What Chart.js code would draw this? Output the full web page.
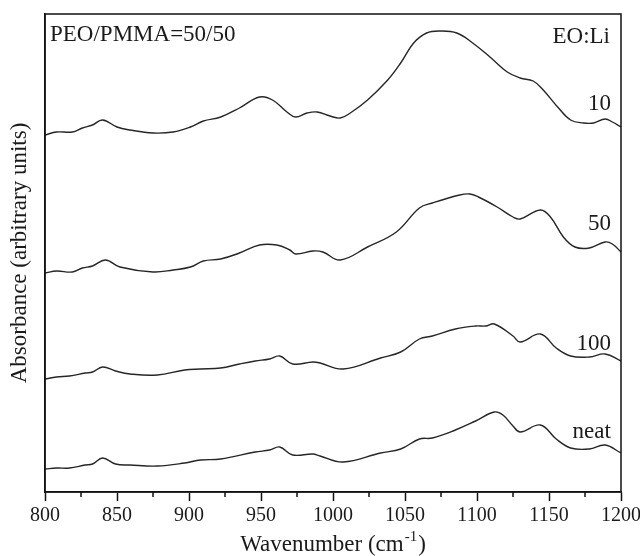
<!DOCTYPE html>
<html>
<head>
<meta charset="utf-8">
<script src="https://cdn.jsdelivr.net/npm/chart.js@4/dist/chart.umd.min.js"></script>
<style>
  html, body { margin: 0; padding: 0; background: #fff; }
</style>
</head>
<body>
<canvas id="ftir" width="640" height="556"></canvas>
<script>
/* FTIR spectra, PEO/PMMA = 50/50 blend with different EO:Li ratios.
   Curves are stacked with a vertical offset (arbitrary units). */

const X_MIN = 800;
const X_MAX = 1200;
const Y_MIN = 0;
const Y_MAX = 478;

// EO:Li = 10
const wn10  = [800, 808, 819, 826, 833, 840, 850, 859, 875, 889, 901, 910, 922, 935, 949, 958, 968, 974, 982, 989, 998, 1005, 1012, 1024, 1038, 1047, 1056, 1065, 1074, 1086, 1097, 1109, 1121, 1130, 1139, 1146, 1156, 1165, 1174, 1181, 1189, 1194, 1200];
const abs10 = [357, 360, 360, 364, 367, 372, 365, 362, 359, 360, 365, 371, 375, 384, 395, 392, 380, 375, 379, 380, 376, 374, 379, 392, 412, 429, 449, 459, 461, 459, 449, 435, 420, 414, 411, 402, 385, 372, 369, 369, 373, 370, 365];

// EO:Li = 50
const wn50  = [800, 808, 819, 826, 833, 842, 852, 875, 889, 901, 910, 922, 935, 949, 961, 970, 974, 986, 993, 1005, 1024, 1044, 1060, 1069, 1088, 1095, 1101, 1114, 1125, 1130, 1144, 1151, 1160, 1168, 1178, 1189, 1194, 1200];
const abs50 = [219, 221, 220, 224, 226, 232, 225, 220, 222, 225, 231, 233, 239, 247, 247, 242, 238, 241, 240, 232, 245, 260, 284, 289, 297, 298, 295, 285, 275, 273, 282, 275, 255, 245, 244, 250, 248, 240];

// EO:Li = 100
const wn100  = [800, 808, 817, 828, 833, 840, 849, 859, 878, 897, 908, 922, 935, 946, 956, 963, 972, 986, 991, 1007, 1033, 1047, 1060, 1069, 1085, 1099, 1106, 1112, 1125, 1130, 1144, 1155, 1165, 1178, 1189, 1200];
const abs100 = [113, 115, 116, 119, 120, 125, 121, 118, 117, 122, 123, 124, 128, 131, 133, 136, 128, 130, 129, 123, 134, 140, 153, 156, 163, 166, 166, 168, 156, 150, 158, 144, 136, 135, 138, 131];

// neat blend (no salt)
const wnNeat  = [800, 808, 817, 828, 833, 840, 849, 859, 878, 897, 908, 922, 946, 956, 963, 972, 986, 991, 1007, 1033, 1047, 1060, 1069, 1085, 1099, 1112, 1118, 1125, 1130, 1144, 1155, 1165, 1178, 1189, 1200];
const absNeat = [23, 24, 24, 27, 28, 34, 28, 27, 26, 29, 32, 33, 40, 42, 45, 37, 38, 36, 30, 39, 43, 53, 54, 62, 71, 80, 77, 66, 60, 67, 53, 44, 43, 47, 39];

const curveNames = ['10', '50', '100', 'neat'];
const curveX = [wn10, wn50, wn100, wnNeat];
const curveY = [abs10, abs50, abs100, absNeat];

const SERIF = '"Liberation Serif", "Times New Roman", serif';
const INK = '#1a1a1a';

// box frame, minor x ticks, axis titles and curve tags
const decorations = {
  id: 'decorations',
  afterDraw(chart) {
    const { ctx, chartArea: a, scales: { x, y } } = chart;
    ctx.save();

    ctx.strokeStyle = '#111';
    ctx.lineWidth = 1.5;
    ctx.strokeRect(a.left, a.top, a.right - a.left, a.bottom - a.top);

    ctx.beginPath();
    for (let v = X_MIN + 25; v < X_MAX; v += 50) {
      const px = Math.round(x.getPixelForValue(v));
      ctx.moveTo(px, a.bottom);
      ctx.lineTo(px, a.bottom + 5);
    }
    ctx.stroke();

    ctx.fillStyle = INK;
    ctx.font = '23px ' + SERIF;
    ctx.textBaseline = 'alphabetic';

    ctx.textAlign = 'left';
    ctx.fillText('PEO/PMMA=50/50', a.left + 5, a.top + 27);
    ctx.textAlign = 'right';
    ctx.fillText('EO:Li', a.right - 11, a.top + 29);

    const tagX = x.getPixelForValue(1193);
    const tagLevels = [382, 262, 142, 54];
    curveNames.forEach((name, i) => {
      ctx.fillText(name, tagX, y.getPixelForValue(tagLevels[i]));
    });

    // x title with superscript
    const main = 'Wavenumber (cm';
    const sup = '-1';
    const tail = ')';
    ctx.font = '23px ' + SERIF;
    const wMain = ctx.measureText(main).width;
    const wTail = ctx.measureText(tail).width;
    ctx.font = '15px ' + SERIF;
    const wSup = ctx.measureText(sup).width;
    const total = wMain + wSup + wTail + 2;
    let tx = (a.left + a.right) / 2 - total / 2;
    const base = 551;
    ctx.textAlign = 'left';
    ctx.font = '23px ' + SERIF;
    ctx.fillText(main, tx, base);
    tx += wMain + 1;
    ctx.font = '15px ' + SERIF;
    ctx.fillText(sup, tx, base - 10);
    tx += wSup + 1;
    ctx.font = '23px ' + SERIF;
    ctx.fillText(tail, tx, base);

    // y title
    ctx.translate(20, (a.top + a.bottom) / 2);
    ctx.rotate(-Math.PI / 2);
    ctx.textAlign = 'center';
    ctx.textBaseline = 'middle';
    ctx.fillText('Absorbance (arbitrary units)', 0, 0);

    ctx.restore();
  }
};

new Chart(document.getElementById('ftir'), {
  type: 'line',
  data: {
    datasets: curveNames.map((name, i) => ({
      label: name,
      data: curveX[i].map((v, j) => ({ x: v, y: curveY[i][j] })),
      borderColor: '#262626',
      borderWidth: 1.4,
      pointRadius: 0,
      fill: false,
      tension: 0.4
    }))
  },
  options: {
    responsive: false,
    animation: false,
    layout: { padding: { top: 14, right: 19, left: 0, bottom: 0 } },
    plugins: {
      legend: { display: false },
      tooltip: { enabled: false }
    },
    scales: {
      x: {
        type: 'linear',
        min: X_MIN,
        max: X_MAX,
        afterFit: s => { s.height = 64; s.paddingRight = 0; s.paddingLeft = 0; },
        ticks: {
          stepSize: 50,
          autoSkip: false,
          maxRotation: 0,
          padding: 3,
          color: INK,
          font: { family: SERIF, size: 20 },
          callback: v => String(v)
        },
        grid: { drawOnChartArea: false, tickLength: 9, tickColor: '#111', tickWidth: 1.5 },
        border: { color: '#111', width: 1.5 }
      },
      y: {
        min: Y_MIN,
        max: Y_MAX,
        afterFit: s => { s.width = 45; },
        ticks: { display: false },
        grid: { display: false },
        border: { color: '#111', width: 1.5 }
      }
    }
  },
  plugins: [decorations]
});
</script>
</body>
</html>
